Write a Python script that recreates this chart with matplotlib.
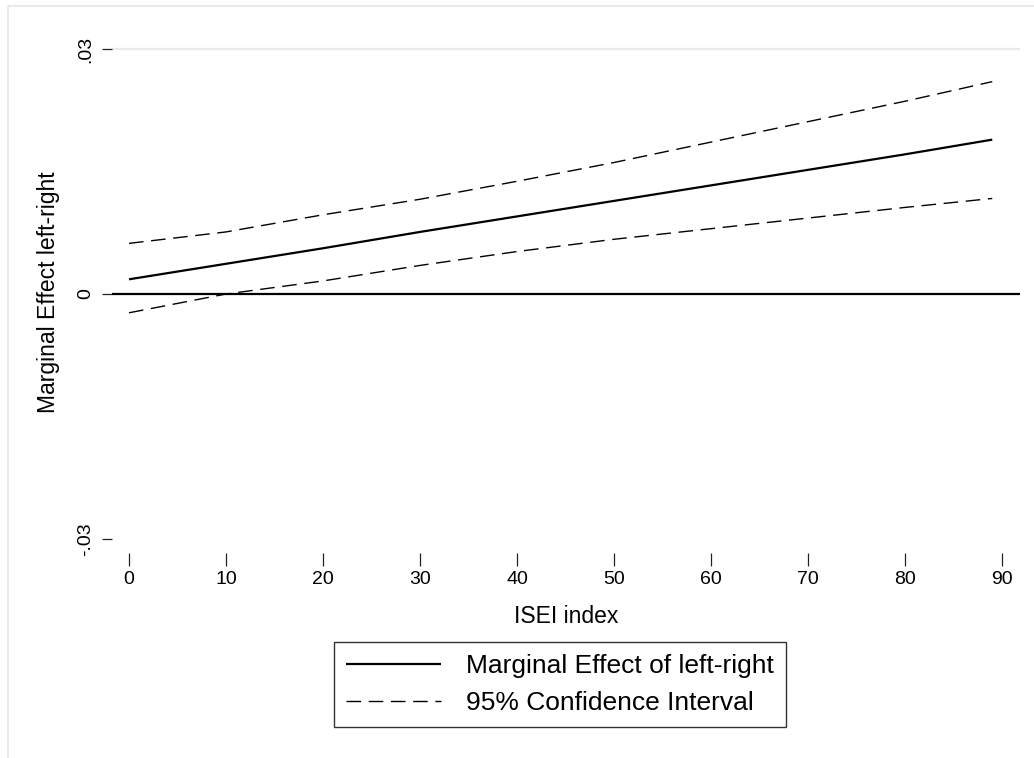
import numpy as np
import matplotlib
matplotlib.use("Agg")
import matplotlib.pyplot as plt
from matplotlib.patches import Rectangle

plt.rcParams['font.family'] = ['Liberation Sans', 'DejaVu Sans']
plt.rcParams['lines.scale_dashes'] = False

# values
isei = [0, 10, 20, 30, 40, 50, 60, 70, 80, 89]
marg_eff = [0.0018, 0.0037, 0.0056, 0.0076, 0.0095, 0.0114, 0.0133, 0.0152, 0.0171, 0.0189]
ci_upper = [0.0062, 0.0076, 0.0097, 0.0116, 0.0138, 0.0161, 0.0186, 0.0211, 0.0236, 0.0260]
ci_lower = [-0.0023, 0.0000, 0.0016, 0.0035, 0.0052, 0.0067, 0.0080, 0.0093, 0.0106, 0.0117]

x_ticks = [0, 10, 20, 30, 40, 50, 60, 70, 80, 90]
y_ticks = [-0.03, 0, 0.03]
y_ticklabels = ['-.03', '0', '.03']

W, H = 1034, 758
fig = plt.figure(figsize=(W / 100, H / 100), dpi=100)

# light outer frame (graph region border, cropped)
fig.patches.append(Rectangle((8 / W, -0.1), 2, 1 - 6 / H + 0.1, transform=fig.transFigure,
                             fill=False, edgecolor='#e6e6e6', linewidth=1.2))

# plot region
left, right, top, bottom = 112, 1020, 40, 553
ax = fig.add_axes([left / W, 1 - bottom / H, (right - left) / W, (bottom - top) / H])
for s in ax.spines.values():
    s.set_visible(False)

ax.set_xlim(-1.753, 91.86)
ax.set_ylim(-0.03171, 0.0311)

# grid line at top tick
ax.axhline(0.03, color='#eaeaea', linewidth=1.6, zorder=0)
# reference line at zero
ax.axhline(0, color='black', linewidth=1.6, zorder=2)

dash = (0, (10.5, 5.5))
ax.plot(isei, marg_eff, color='black', linewidth=1.6, solid_capstyle='butt',
        label='Marginal Effect of left-right', zorder=3)
ax.plot(isei, ci_upper, color='black', linewidth=1.0, linestyle=dash,
        label='95% Confidence Interval', zorder=3)
ax.plot(isei, ci_lower, color='black', linewidth=1.0, linestyle=dash, zorder=3)

ax.set_xticks(x_ticks)
ax.set_yticks(y_ticks)
ax.set_yticklabels(y_ticklabels)
ax.tick_params(axis='x', direction='out', length=9.4, width=0.9, color='#222222',
               pad=3.5, labelsize=14)
ax.tick_params(axis='y', direction='out', length=7.2, width=0.9, color='#222222',
               pad=5.5, labelsize=14, labelrotation=90)
for lab in ax.get_yticklabels():
    lab.set_va('center')

ax.set_xlabel('ISEI index', fontsize=16.5, va='baseline')
ax.xaxis.set_label_coords(0.5, (bottom - 623) / (bottom - top))
ax.set_ylabel('Marginal Effect left-right', fontsize=16.5, va='center', ha='left')
ax.yaxis.set_label_coords((48 - left) / (right - left), (bottom - 413) / (bottom - top))

leg = fig.legend(loc='upper left', bbox_to_anchor=(334 / W, 1 - 642 / H),
                 fontsize=19, frameon=True, fancybox=False, edgecolor='black',
                 handlelength=3.6, handletextpad=0.95, labelspacing=0.5,
                 borderpad=0.45, borderaxespad=0)
leg.get_frame().set_linewidth(1.0)

fig.savefig('out.png', dpi=100, facecolor='white')
